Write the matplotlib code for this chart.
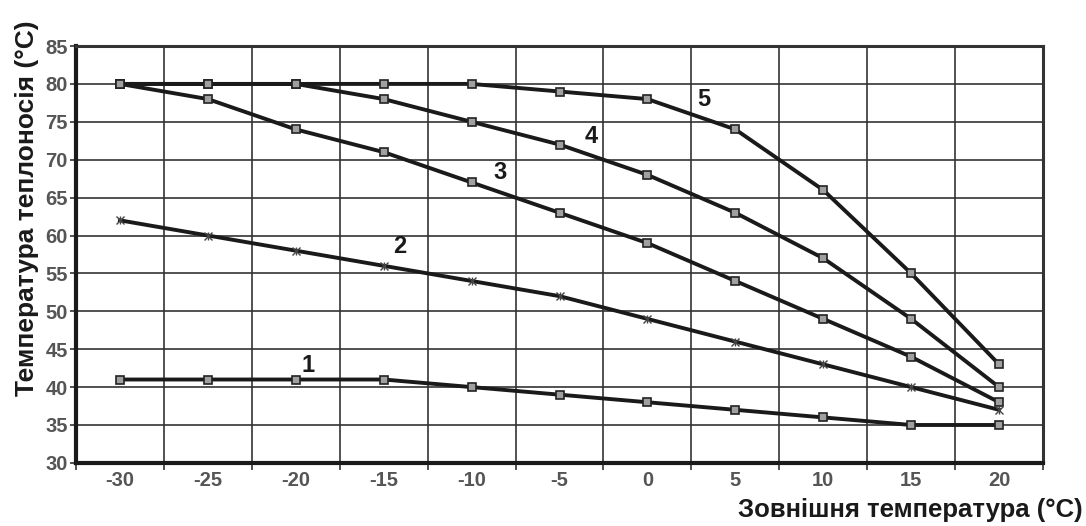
import matplotlib
matplotlib.use("Agg")
import matplotlib.pyplot as plt
from matplotlib.ticker import FixedLocator, NullFormatter

plt.rcParams['font.family'] = ['Liberation Sans', 'DejaVu Sans']

outdoor = [-30, -25, -20, -15, -10, -5, 0, 5, 10, 15, 20]
curve_1 = [41, 41, 41, 41, 40, 39, 38, 37, 36, 35, 35]
curve_2 = [62, 60, 58, 56, 54, 52, 49, 46, 43, 40, 37]
curve_3 = [80, 78, 74, 71, 67, 63, 59, 54, 49, 44, 38]
curve_4 = [80, 80, 80, 78, 75, 72, 68, 63, 57, 49, 40]
curve_5 = [80, 80, 80, 80, 80, 79, 78, 74, 66, 55, 43]
curve_names = ["1", "2", "3", "4", "5"]
label_pos = [(-19.3, 42.8), (-14.1, 58.5), (-8.4, 68.3), (-3.2, 73.0), (3.2, 77.9)]
y_ticks = [30, 35, 40, 45, 50, 55, 60, 65, 70, 75, 80, 85]

fig = plt.figure(figsize=(10.86, 5.26), dpi=100)
ax = fig.add_axes([0.070, 0.12, 0.8904, 0.7925])

series = [curve_1, curve_2, curve_3, curve_4, curve_5]
for i, ys in enumerate(series):
    if i == 1:
        ax.plot(outdoor, ys, color='#1a1a1a', lw=2.8, zorder=3)
        ax.plot(outdoor, ys, ls='none', marker='x', ms=6, mew=1.0,
                color='#444444', zorder=4)
        ax.plot(outdoor, ys, ls='none', marker='|', ms=6, mew=1.0,
                color='#444444', zorder=4)
    else:
        ax.plot(outdoor, ys, color='#1a1a1a', lw=2.8, zorder=3,
                marker='s', ms=6, mfc='#a0a0a0', mec='#222222', mew=1.2)

for name, (lx, ly) in zip(curve_names, label_pos):
    ax.text(lx, ly, name, fontsize=17, fontweight='bold', color='#1a1a1a',
            ha='center', va='center', zorder=5)

ax.set_xlim(-32.5, 22.5)
ax.set_ylim(30, 85)

# category boundaries carry the grid and tick marks, centres carry labels
bounds = [x + 2.5 for x in [-35] + outdoor]
ax.xaxis.set_major_locator(FixedLocator(bounds))
ax.xaxis.set_major_formatter(NullFormatter())
ax.xaxis.set_minor_locator(FixedLocator(outdoor))
ax.set_xticklabels([str(v) for v in outdoor], minor=True)
ax.tick_params(axis='x', which='major', length=5, width=1.2, color='#333333', direction='out')
ax.tick_params(axis='x', which='minor', length=0, pad=6,
               labelsize=14.5, labelcolor='#555555')
for lbl in ax.get_xticklabels(minor=True):
    lbl.set_fontweight('bold')

ax.set_yticks(y_ticks)
ax.tick_params(axis='y', length=4, width=1.2, color='#333333', pad=2,
               labelsize=14.5, labelcolor='#555555')
for lbl in ax.get_yticklabels():
    lbl.set_fontweight('bold')

ax.grid(True, which='major', color='#333333', lw=1.2, zorder=1)

for side in ['left', 'bottom']:
    ax.spines[side].set_linewidth(3.0)
    ax.spines[side].set_color('#1a1a1a')
for side in ['top', 'right']:
    ax.spines[side].set_linewidth(2.2)
    ax.spines[side].set_color('#333333')

fig.text(27 / 1086, 0.605, "Температура теплоносія (°C)", fontsize=19,
         fontweight='bold', color='#1a1a1a', rotation=90,
         ha='center', va='center')
fig.text(0.997, 0.008, "Зовнішня температура (°C)", fontsize=18.5,
         fontweight='bold', color='#1a1a1a', ha='right', va='bottom')

fig.savefig("out.png", dpi=100, facecolor='white')
